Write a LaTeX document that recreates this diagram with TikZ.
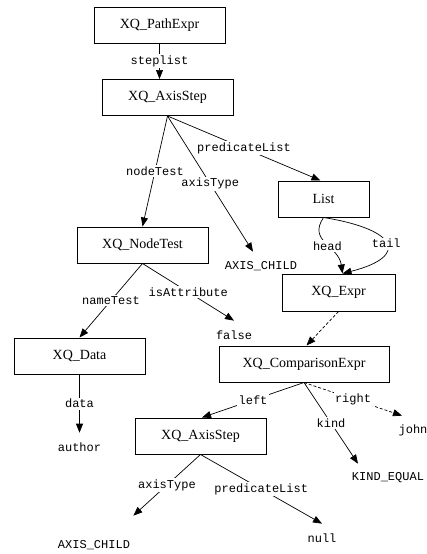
\documentclass[tikz,border=0pt]{standalone}
\usepackage{fontspec}
\setmainfont{Liberation Serif}
\setmonofont{Liberation Mono}
\usetikzlibrary{arrows.meta,positioning}

\begin{document}
\begin{tikzpicture}[x=1pt,y=-1pt,on grid,>={Triangle[length=9pt,width=7pt]},line width=0.7pt]
        \tikzstyle{xq_box}=[draw=black,line width=1pt,minimum width=131pt,minimum height=36pt,inner sep=2pt,font=\fontsize{14}{16}\selectfont]
        \tikzstyle{xq_leaf}=[inner sep=0pt,minimum height=28pt,font=\fontsize{12}{14}\ttfamily]
        \tikzstyle{xq_lab}=[fill=white,inner sep=1.5pt,font=\fontsize{12}{14}\ttfamily]
        \useasboundingbox (0,0) rectangle (427,554);
        \node[xq_box]  (pe) at (159.5,25)                  {XQ\_PathExpr};
        \node[xq_box]  (as1) [below right=72.5pt and 8pt of pe]          {XQ\_AxisStep};
    \node[xq_box,minimum width=91pt]  (lst) [below right=101.5pt and 156pt of as1]   {List};
    \node[xq_box]  (nt) [below left=147.5pt and 25pt of as1]           {XQ\_NodeTest};
    \node[xq_leaf]  (ac1) [below right=168.5pt and 93.5pt of as1]      {AXIS\_CHILD};
    \node[xq_box,minimum width=113pt,minimum height=37pt]  (ex) [below right=93.5pt and 15pt of lst]  {XQ\_Expr};
    
    \node[xq_box]  (dat) [below left=111pt and 63pt of nt]             {XQ\_Data};
    \node[xq_leaf]  (fl) [below right=90pt and 91.5pt of nt]           {false};
    \node[xq_box,minimum width=170pt]  (ce) [below left=71.5pt and 34.5pt of ex]  {XQ\_ComparisonExpr};
    \node[xq_leaf]  (au) [below=91pt of dat]                           {author};
    
    \node[xq_box]  (as2) [below left=72pt and 103.5pt of ce]           {XQ\_AxisStep};
    \node[xq_leaf]  (ke) [below right=114pt and 84pt of ce]            {KIND\_EQUAL};
    \node[xq_leaf]  (jn) [below right=66pt and 109pt of ce]            {john};
    \node[xq_leaf]  (ac2) [below left=109pt and 106.5pt of as2]        {AXIS\_CHILD};
    \node[xq_leaf]  (nl) [below right=102pt and 121.5pt of as2]        {null};
    
    \path[->]
    (pe.south) edge               node[xq_lab] {steplist}  (pe.south |- as1.north)
    (as1.south) edge              node[xq_lab] {nodeTest}  (nt.north)
    (as1.south) edge              node[xq_lab] {axisType}  ([xshift=-8pt]ac1.north)
    (as1.south) edge              node[xq_lab] {predicateList}  ([xshift=-3pt]lst.north)
    (nt.south) edge               node[xq_lab] {nameTest}  (dat.north)
    (nt.south) edge               node[xq_lab] {isAttribute}  (fl.north)
    (dat.south) edge              node[xq_lab] {data}  (au.north)
    (ce.south) edge               node[xq_lab] {left}  ([xshift=1.5pt]as2.north)
    (ce.south) edge               node[xq_lab] {kind}  ([xshift=-30pt]ke.north)
    (as2.south) edge              node[xq_lab] {axisType}  ([xshift=3pt,yshift=15pt]ac2.north east)
    (as2.south) edge              node[xq_lab] {predicateList}  (nl.north);
    
    \path[->,dash pattern=on 3pt off 2pt]
    (ex.south) edge               ([xshift=2.5pt]ce.north)
    (ce.south) edge               node[xq_lab] {right}  ([xshift=-11pt]jn.north);
    
    \draw[->] (lst.south) .. controls +(-16,24) and +(-4,-28) .. node[xq_lab,pos=.55] {head} ([xshift=4pt]ex.north);
    \draw[->] (lst.south) .. controls +(75,12) and +(67,-17) .. node[xq_lab] {tail} ([xshift=4pt]ex.north);
    
    \end{tikzpicture}
\end{document}
